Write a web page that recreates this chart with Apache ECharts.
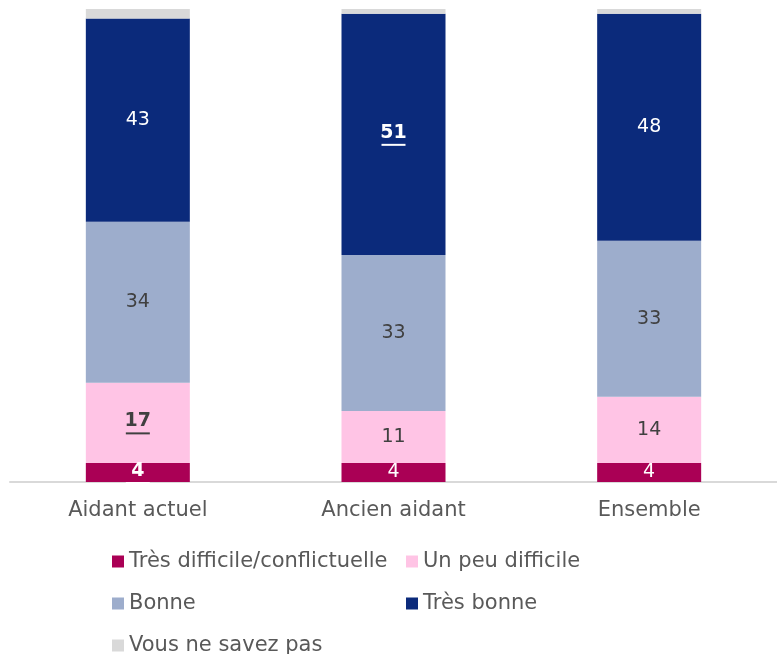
<!DOCTYPE html>
<html>
<head>
<meta charset="utf-8">
<style>
  html, body { margin: 0; padding: 0; background: #fff; }
  #chart { width: 777px; height: 654px; }
</style>
<script src="https://cdn.jsdelivr.net/npm/echarts@6/dist/echarts.min.js"></script>
</head>
<body>
<div id="chart"></div>
<script>
var categories = ['Aidant actuel', 'Ancien aidant', 'Ensemble'];
var seriesNames = ['Très difficile/conflictuelle', 'Un peu difficile', 'Bonne', 'Très bonne', 'Vous ne savez pas'];
var tresDifficile = [4, 4, 4];
var peuDifficile = [17, 11, 14];
var bonne = [34, 33, 33];
var tresBonne = [43, 51, 48];
var nsp = [2, 1, 1];
// labels shown bold + underlined : [series index, category index]
var underlined = [[0, 0], [1, 0], [3, 1]];

var colors = ['#aa0055', '#ffc4e5', '#9dadcc', '#0b2a7b', '#d9d9d9'];
var labelColors = ['#ffffff', '#404040', '#404040', '#ffffff', '#404040'];
var FONT = 'DejaVu Sans';

function isUnderlined(s, c) {
    for (var i = 0; i < underlined.length; i++) {
        if (underlined[i][0] === s && underlined[i][1] === c) return true;
    }
    return false;
}

function buildSeries(idx, values) {
    return {
        name: seriesNames[idx],
        type: 'bar',
        stack: 'total',
        barWidth: 104,
        itemStyle: { color: colors[idx] },
        label: {
            show: idx !== 4,
            position: 'inside',
            fontFamily: FONT,
            fontSize: 19,
            color: labelColors[idx],
            formatter: function (p) {
                if (isUnderlined(idx, p.dataIndex)) {
                    return '{b|' + p.value + '}\n{u| }';
                }
                return p.value;
            },
            rich: {
                b: { fontFamily: FONT, fontSize: 19, fontWeight: 'bold', color: labelColors[idx], lineHeight: 21 },
                u: { width: 24, height: 2, lineHeight: 3, backgroundColor: labelColors[idx], fontSize: 1 }
            }
        },
        data: values
    };
}

var legendText = { color: '#595959', fontSize: 21, fontFamily: FONT };

var chart = echarts.init(document.getElementById('chart'));
chart.setOption({
    animation: false,
    textStyle: { fontFamily: FONT },
    grid: { left: 10, right: 0, top: 9, bottom: 172, containLabel: false },
    xAxis: {
        type: 'category',
        data: categories,
        axisLine: { lineStyle: { color: '#d9d9d9', width: 2 } },
        axisTick: { show: false },
        axisLabel: { color: '#595959', fontSize: 21, fontFamily: FONT, margin: 18 }
    },
    yAxis: { type: 'value', min: 0, max: 100, show: false, splitLine: { show: false } },
    legend: [
        {
            orient: 'vertical',
            left: 107,
            top: 546,
            height: 110,
            itemWidth: 12,
            itemHeight: 12,
            itemGap: 21,
            icon: 'rect',
            textStyle: legendText,
            data: [seriesNames[0], seriesNames[2], seriesNames[4]]
        },
        {
            orient: 'vertical',
            left: 401,
            top: 546,
            height: 110,
            itemWidth: 12,
            itemHeight: 12,
            itemGap: 21,
            icon: 'rect',
            textStyle: legendText,
            data: [seriesNames[1], seriesNames[3]]
        }
    ],
    series: [
        buildSeries(0, tresDifficile),
        buildSeries(1, peuDifficile),
        buildSeries(2, bonne),
        buildSeries(3, tresBonne),
        buildSeries(4, nsp)
    ]
});
window.addEventListener('resize', function () { chart.resize(); });
</script>
</body>
</html>
